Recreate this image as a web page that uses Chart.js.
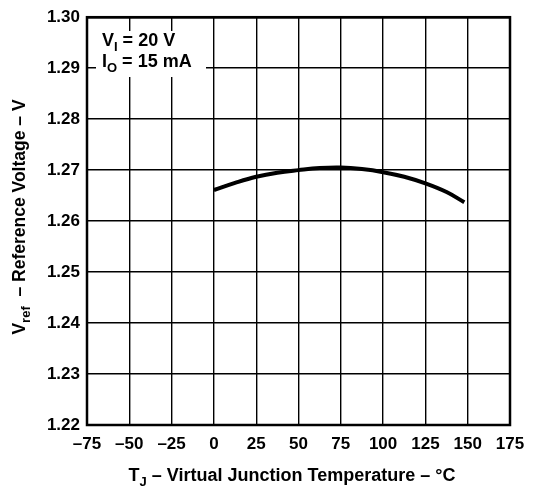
<!DOCTYPE html>
<html>
<head>
<meta charset="utf-8">
<script src="https://cdn.jsdelivr.net/npm/chart.js@4.4.1/dist/chart.umd.min.js"></script>
<style>
  html, body { margin: 0; padding: 0; background: #fff; }
  #wrap { width: 535px; height: 487px; }
</style>
</head>
<body>
<div id="wrap"><canvas id="chart" width="535" height="487"></canvas></div>
<script>
// junction temperature (°C) and reference voltage (V)
const tempC = [0, 12.5, 25, 37.5, 50, 62.5, 75, 87.5, 100, 112.5, 125, 137.5, 148];
const vref = [1.2661, 1.2675, 1.2687, 1.2695, 1.2700, 1.2704, 1.2705, 1.2702, 1.2696, 1.2687, 1.2674, 1.2657, 1.2637];

const xTicks = [-75, -50, -25, 0, 25, 50, 75, 100, 125, 150, 175];
const yTicks = [1.22, 1.23, 1.24, 1.25, 1.26, 1.27, 1.28, 1.29, 1.30];

const FONT = '"Liberation Sans", Arial, sans-serif';

// draws text with subscripts, parts = [[text, isSub], ...], centered or left aligned
function drawRich(ctx, parts, x, y, size, align) {
  const big = 'bold ' + size + 'px ' + FONT;
  const small = 'bold ' + Math.round(size * 0.72) + 'px ' + FONT;
  let total = 0;
  parts.forEach(([t, sub]) => {
    ctx.font = sub ? small : big;
    total += ctx.measureText(t).width;
  });
  let cx = align === 'center' ? x - total / 2 : x;
  ctx.textAlign = 'left';
  ctx.textBaseline = 'alphabetic';
  parts.forEach(([t, sub]) => {
    ctx.font = sub ? small : big;
    ctx.fillText(t, cx, sub ? y + size * 0.3 : y);
    cx += ctx.measureText(t).width;
  });
}

const extras = {
  id: 'extras',
  beforeDatasetsDraw(chart) {
    const ctx = chart.ctx;
    // white patch behind the condition note
    ctx.save();
    ctx.fillStyle = '#fff';
    ctx.fillRect(96, 31, 110, 46);
    ctx.restore();
  },
  afterDraw(chart) {
    const ctx = chart.ctx;
    const a = chart.chartArea;
    ctx.save();
    ctx.fillStyle = '#000';
    ctx.strokeStyle = '#000';
    ctx.lineWidth = 2.5;
    ctx.strokeRect(a.left, a.top, a.right - a.left, a.bottom - a.top);

    drawRich(ctx, [['V', false], ['I', true], [' = 20 V', false]], 102, 46, 18, 'left');
    drawRich(ctx, [['I', false], ['O', true], [' = 15 mA', false]], 102, 67, 18, 'left');

    drawRich(ctx, [['T', false], ['J', true], [' – Virtual Junction Temperature – °C', false]],
      292, 481, 18, 'center');

    ctx.translate(25, 217);
    ctx.rotate(-Math.PI / 2);
    drawRich(ctx, [['V', false], ['ref', true], ['  – Reference Voltage – V', false]],
      0, 0, 17.5, 'center');
    ctx.restore();
  }
};

new Chart(document.getElementById('chart'), {
  type: 'scatter',
  data: {
    datasets: [{
      data: tempC.map((t, i) => ({ x: t, y: vref[i] })),
      showLine: true,
      borderColor: '#000',
      borderWidth: 4,
      pointRadius: 0,
      tension: 0.4,
      fill: false
    }]
  },
  options: {
    responsive: false,
    animation: false,
    layout: { padding: { top: 11, right: 25, left: 0, bottom: 0 } },
    plugins: { legend: { display: false }, tooltip: { enabled: false } },
    scales: {
      x: {
        type: 'linear',
        min: -75,
        max: 175,
        afterBuildTicks: (s) => { s.ticks = xTicks.map((v) => ({ value: v })); },
        afterFit: (s) => { s.height = 62; },
        grid: { color: '#000', lineWidth: 1.4, drawTicks: false },
        border: { display: false },
        ticks: {
          padding: 9,
          color: '#000',
          font: { family: FONT, size: 17, weight: 'bold' },
          callback: (v) => (v < 0 ? '–' + Math.abs(v) : String(v))
        }
      },
      y: {
        type: 'linear',
        min: 1.22,
        max: 1.30,
        afterBuildTicks: (s) => { s.ticks = yTicks.map((v) => ({ value: v })); },
        afterFit: (s) => { s.width = 87; },
        grid: { color: '#000', lineWidth: 1.4, drawTicks: false },
        border: { display: false },
        ticks: {
          padding: 7,
          color: '#000',
          font: { family: FONT, size: 17, weight: 'bold' },
          callback: (v) => Number(v).toFixed(2)
        }
      }
    }
  },
  plugins: [extras]
});
</script>
</body>
</html>
